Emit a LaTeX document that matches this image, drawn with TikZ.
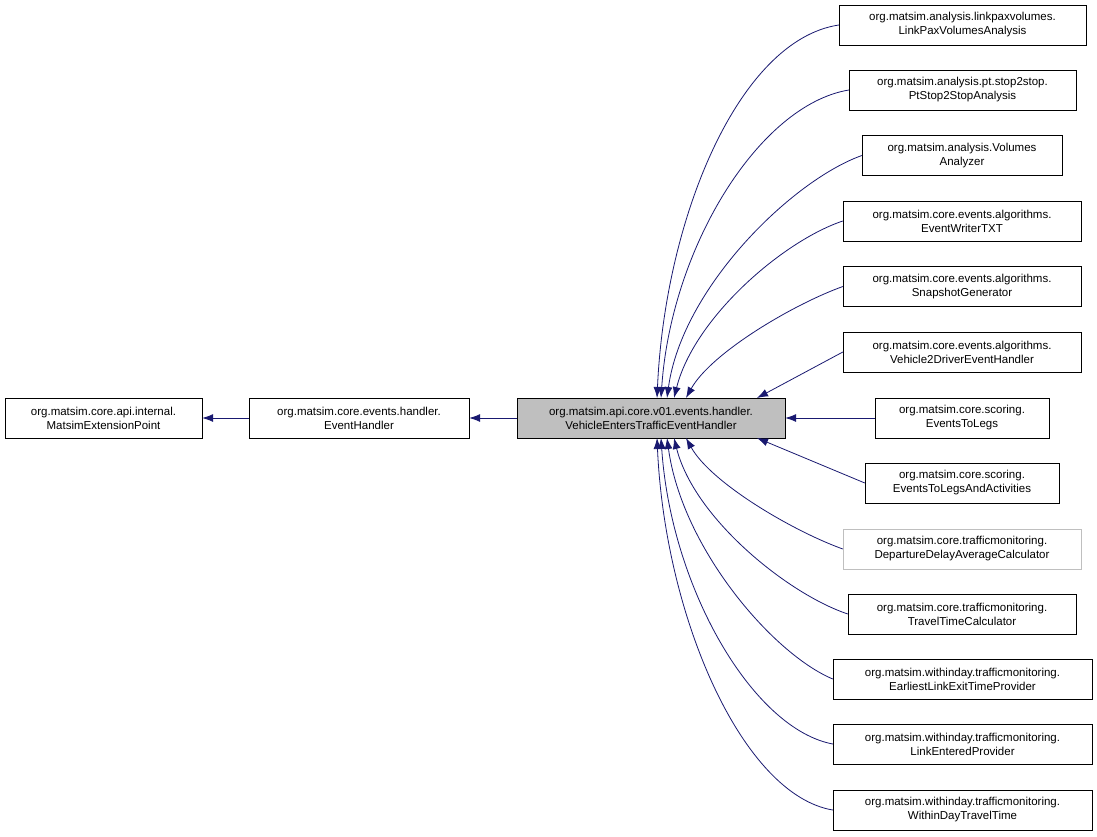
\documentclass[tikz,border=0pt]{standalone}
\usepackage{fontspec}
\setmainfont{Liberation Sans}
\usetikzlibrary{arrows.meta}
\definecolor{navy}{HTML}{191970}
\begin{document}
\begin{tikzpicture}[x=1pt,y=-1pt,
  box/.style={draw=black,fill=white,inner sep=0pt,minimum height=40pt,align=center,font=\fontsize{11.5}{14}\selectfont},
  edge/.style={draw=navy,line width=0.8pt,-{Latex[length=11pt,width=8pt]}}]
\useasboundingbox (0,0) rectangle (1097,836);
\node[box,minimum width=197pt] (ext) at (103.5,418) {org.matsim.core.api.internal.\\MatsimExtensionPoint};
\node[box,minimum width=220pt] (eh) at (359,418) {org.matsim.core.events.handler.\\EventHandler};
\node[box,minimum width=268pt,fill={rgb,255:red,191;green,191;blue,191}] (c) at (651,418) {org.matsim.api.core.v01.events.handler.\\VehicleEntersTrafficEventHandler};
\node[box,minimum width=247pt] (n1) at (962.5,25) {org.matsim.analysis.linkpaxvolumes.\\LinkPaxVolumesAnalysis};
\node[box,minimum width=227pt] (n2) at (962.5,90) {org.matsim.analysis.pt.stop2stop.\\PtStop2StopAnalysis};
\node[box,minimum width=200pt] (n3) at (962,155.5) {org.matsim.analysis.Volumes\\Analyzer};
\node[box,minimum width=238pt] (n4) at (962,221) {org.matsim.core.events.algorithms.\\EventWriterTXT};
\node[box,minimum width=238pt] (n5) at (962,286.5) {org.matsim.core.events.algorithms.\\SnapshotGenerator};
\node[box,minimum width=238pt] (n6) at (962,352) {org.matsim.core.events.algorithms.\\Vehicle2DriverEventHandler};
\node[box,minimum width=174pt] (n7) at (962,418) {org.matsim.core.scoring.\\EventsToLegs};
\node[box,minimum width=194pt] (n8) at (962,483) {org.matsim.core.scoring.\\EventsToLegsAndActivities};
\node[box,minimum width=238pt,draw={rgb,255:red,191;green,191;blue,191}] (n9) at (962,549) {org.matsim.core.trafficmonitoring.\\DepartureDelayAverageCalculator};
\node[box,minimum width=228pt] (n10) at (962,614) {org.matsim.core.trafficmonitoring.\\TravelTimeCalculator};
\node[box,minimum width=259pt] (n11) at (962.5,679) {org.matsim.withinday.trafficmonitoring.\\EarliestLinkExitTimeProvider};
\node[box,minimum width=259pt] (n12) at (962.5,744) {org.matsim.withinday.trafficmonitoring.\\LinkEnteredProvider};
\node[box,minimum width=259pt] (n13) at (962.5,810) {org.matsim.withinday.trafficmonitoring.\\WithinDayTravelTime};
\coordinate (t1) at (657,398); \coordinate (t2) at (661,398); \coordinate (t3) at (667,398);
\coordinate (t4) at (674,398); \coordinate (t5) at (686,398); \coordinate (t6) at (757,398);
\coordinate (b8) at (757,438); \coordinate (b9) at (686,438); \coordinate (b10) at (674,438);
\coordinate (b11) at (667,438); \coordinate (b12) at (661,438); \coordinate (b13) at (657,438);
\draw[edge] (eh) -- (ext);
\draw[edge] (c) -- (eh);
\draw[edge] (n7) -- (c);
\draw[edge] (n1.west) .. controls +(-100,15) and +(8,-180) .. (t1);
\draw[edge] (n2.west) .. controls +(-90,15) and +(10,-150) .. (t2);
\draw[edge] (n3.west) .. controls +(-70,25) and +(15,-110) .. (t3);
\draw[edge] (n4.west) .. controls +(-60,20) and +(20,-80) .. (t4);
\draw[edge] (n5.west) .. controls +(-50,18) and +(25,-45) .. (t5);
\draw[edge] (n6.west) -- (t6);
\draw[edge] (n8.west) -- (b8);
\draw[edge] (n9.west) .. controls +(-50,-18) and +(25,45) .. (b9);
\draw[edge] (n10.west) .. controls +(-60,-20) and +(20,80) .. (b10);
\draw[edge] (n11.west) .. controls +(-60,-25) and +(15,110) .. (b11);
\draw[edge] (n12.west) .. controls +(-80,-15) and +(10,150) .. (b12);
\draw[edge] (n13.west) .. controls +(-90,-15) and +(8,180) .. (b13);
\end{tikzpicture}
\end{document}
